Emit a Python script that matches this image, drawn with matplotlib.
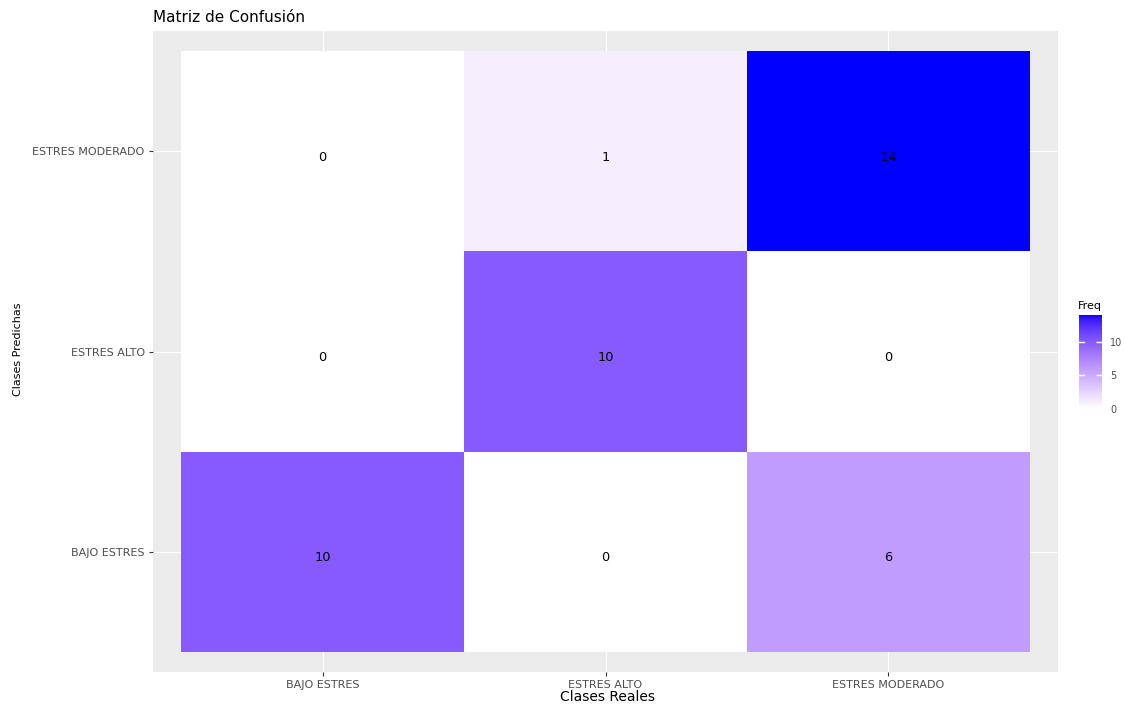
import numpy as np
import matplotlib
matplotlib.use("Agg")
import matplotlib.pyplot as plt
from matplotlib.colors import ListedColormap, Normalize
from matplotlib.cm import ScalarMappable

plt.rcParams['font.family'] = ['DejaVu Sans']

# Data
reales = ["BAJO ESTRES", "ESTRES ALTO", "ESTRES MODERADO"]
predichas = ["BAJO ESTRES", "ESTRES ALTO", "ESTRES MODERADO"]
# freq[pred][real]
freq = np.array([
    [10, 0, 6],    # BAJO ESTRES (pred)
    [0, 10, 0],    # ESTRES ALTO (pred)
    [0, 1, 14],    # ESTRES MODERADO (pred)
])

# --- Lab interpolation white -> blue (like ggplot scale_fill_gradient) ---
def srgb_to_lin(c):
    c = np.asarray(c, float)
    return np.where(c <= 0.04045, c / 12.92, ((c + 0.055) / 1.055) ** 2.4)

def lin_to_srgb(c):
    c = np.clip(c, 0, 1)
    return np.where(c <= 0.0031308, 12.92 * c, 1.055 * c ** (1 / 2.4) - 0.055)

M = np.array([[0.4124564, 0.3575761, 0.1804375],
              [0.2126729, 0.7151522, 0.0721750],
              [0.0193339, 0.1191920, 0.9503041]])
Minv = np.linalg.inv(M)
WP = np.array([0.95047, 1.0, 1.08883])

def f(t):
    d = 6 / 29
    return np.where(t > d ** 3, np.cbrt(t), t / (3 * d * d) + 4 / 29)

def finv(t):
    d = 6 / 29
    return np.where(t > d, t ** 3, 3 * d * d * (t - 4 / 29))

def rgb_to_lab(rgb):
    xyz = M @ srgb_to_lin(rgb) / WP
    fx, fy, fz = f(xyz)
    return np.array([116 * fy - 16, 500 * (fx - fy), 200 * (fy - fz)])

def lab_to_rgb(lab):
    L, a, b = lab
    fy = (L + 16) / 116
    fx = fy + a / 500
    fz = fy - b / 200
    xyz = np.array([finv(fx), finv(fy), finv(fz)]) * WP
    return np.clip(lin_to_srgb(Minv @ xyz), 0, 1)

lab_lo = rgb_to_lab([1, 1, 1])
lab_hi = rgb_to_lab([0, 0, 1])
ts = np.linspace(0, 1, 256)
cols = [lab_to_rgb(lab_lo + (lab_hi - lab_lo) * t) for t in ts]
cmap = ListedColormap(cols)
vmin, vmax = freq.min(), freq.max()
norm = Normalize(vmin=vmin, vmax=vmax)

W, H = 1125, 707
fig = plt.figure(figsize=(W / 100, H / 100), dpi=100)
fig.patch.set_facecolor("white")

ax = fig.add_axes([153 / W, (H - 672) / H, (1058 - 153) / W, (672 - 31) / H])
ax.set_facecolor("#EBEBEB")
ax.set_xlim(-0.6, 2.6)
ax.set_ylim(-0.6, 2.6)
ax.set_xticks(range(3))
ax.set_yticks(range(3))
ax.grid(True, color="white", linewidth=0.8)
ax.set_axisbelow(True)
for s in ax.spines.values():
    s.set_visible(False)

ax.pcolormesh(np.arange(-0.5, 3, 1), np.arange(-0.5, 3, 1), freq,
              cmap=cmap, norm=norm, zorder=2)
for i in range(3):
    for j in range(3):
        ax.text(j, i - 0.03, str(freq[i, j]), ha="center", va="center",
                fontsize=9.3, color="black", zorder=3)

ax.set_xticklabels(reales, fontsize=8, color="#4D4D4D")
ax.set_yticklabels(predichas, fontsize=8, color="#4D4D4D")
ax.tick_params(axis="both", length=3, color="#333333", width=0.8, pad=3)
fig.text(608 / W, 1 - 697 / H, "Clases Reales", fontsize=10,
         ha="center", va="center")
fig.text(18 / W, 1 - 349 / H, "Clases Predichas", fontsize=8,
         ha="center", va="center", rotation=90)
fig.text(153 / W, 1 - 18 / H, "Matriz de Confusión", fontsize=11,
         ha="left", va="center")

# Colorbar legend
cax = fig.add_axes([1079 / W, (H - 409) / H, 23 / W, (409 - 315) / H])
sm = ScalarMappable(norm=norm, cmap=cmap)
cb = fig.colorbar(sm, cax=cax, ticks=[0, 5, 10])
cb.outline.set_visible(False)
cax.tick_params(axis="y", length=4, color="white", width=1, labelsize=7,
                labelcolor="#4D4D4D", direction="in", pad=6)
for t in [5, 10]:
    cax.axhline(t, xmin=0, xmax=0.2, color="white", lw=1)
cax.set_title("Freq", fontsize=8, loc="left", pad=4, x=-0.05)

fig.savefig("out.png", dpi=100)
